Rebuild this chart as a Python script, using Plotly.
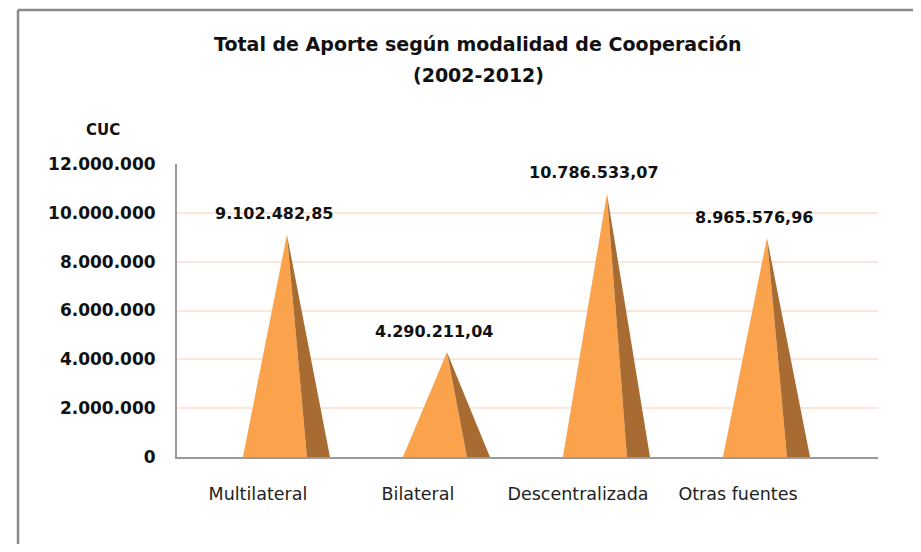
import plotly.graph_objects as go

categories = ["Multilateral", "Bilateral", "Descentralizada", "Otras fuentes"]
values = [9102482.85, 4290211.04, 10786533.07, 8965576.96]
value_labels = ["9.102.482,85", "4.290.211,04", "10.786.533,07", "8.965.576,96"]
y_ticks = [0, 2000000, 4000000, 6000000, 8000000, 10000000, 12000000]
y_tick_labels = ["0", "2.000.000", "4.000.000", "6.000.000", "8.000.000", "10.000.000", "12.000.000"]
title_lines = ["Total de Aporte según modalidad de Cooperación", "(2002-2012)"]
y_unit = "CUC"

FONT = "DejaVu Sans"
FRONT = "#FBA24C"
SIDE = "#A86B31"

# pyramid geometry offsets (in category units)
APEX, LEFT, FRONT_R, SIDE_R = 0.181, -0.094, 0.306, 0.45

fig = go.Figure()
for i, v in enumerate(values):
    fig.add_trace(go.Scatter(
        x=[i + LEFT, i + APEX, i + FRONT_R, i + LEFT],
        y=[0, v, 0, 0], mode="lines", fill="toself",
        fillcolor=FRONT, line=dict(width=0, color=FRONT),
        hoverinfo="skip", showlegend=False))
    fig.add_trace(go.Scatter(
        x=[i + APEX, i + SIDE_R, i + FRONT_R, i + APEX],
        y=[v, 0, 0, v], mode="lines", fill="toself",
        fillcolor=SIDE, line=dict(width=0, color=SIDE),
        hoverinfo="skip", showlegend=False))
    fig.add_annotation(x=i + 0.1, y=v, text=value_labels[i], showarrow=False,
                       yshift=21, yanchor="middle", xanchor="center",
                       font=dict(family=FONT, size=16, color="#111", weight="bold"))

fig.add_annotation(xref="paper", yref="paper", x=-0.1056, y=1.116, text=y_unit,
                   showarrow=False, xanchor="center", yanchor="middle",
                   font=dict(family=FONT, size=15, color="#111", weight="bold"))

for txt, yy in zip(title_lines, [1.4096, 1.3038]):
    fig.add_annotation(xref="paper", yref="paper", x=0.4294, y=yy, text=txt,
                       showarrow=False, xanchor="center", yanchor="middle",
                       font=dict(family=FONT, size=19, color="#111", weight="bold"))

# outer frame: only left and top edges are visible
frame = dict(color="#8A8A8A", width=2.5)
fig.add_shape(type="line", xref="paper", yref="paper",
              x0=-0.2268, x1=1.3, y0=1.5256, y1=1.5256, line=frame, layer="below")
fig.add_shape(type="line", xref="paper", yref="paper",
              x0=-0.2268, x1=-0.2268, y0=-0.6, y1=1.5256, line=frame, layer="below")

fig.update_layout(
    width=905, height=536,
    margin=dict(l=169, r=35, t=156, b=87),
    paper_bgcolor="white", plot_bgcolor="white",
    xaxis=dict(range=[-0.506, 3.875], tickmode="array", tickvals=list(range(len(categories))),
               ticktext=categories, showgrid=False, zeroline=False,
               showline=True, linecolor="#9A9A9A", linewidth=2,
               ticks="", ticklabelstandoff=20,
               tickfont=dict(family=FONT, size=17.5, color="#222")),
    yaxis=dict(range=[0, 12000000], tickmode="array", tickvals=y_ticks, ticktext=y_tick_labels,
               showgrid=True, gridcolor="#FCE6D8", gridwidth=2, zeroline=False,
               showline=True, linecolor="#9A9A9A", linewidth=2,
               ticks="", ticklabelstandoff=16,
               tickfont=dict(family=FONT, size=17, color="#111", weight="bold")),
)

fig.write_html("out.html")
